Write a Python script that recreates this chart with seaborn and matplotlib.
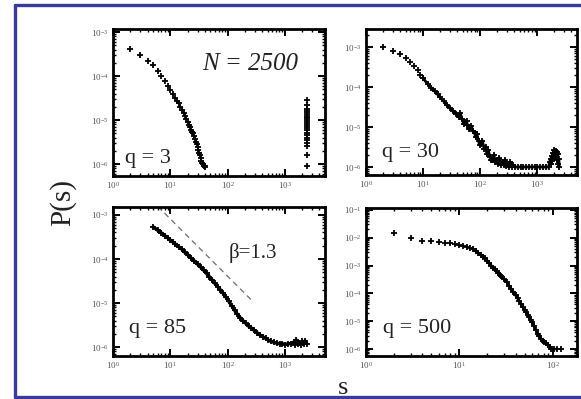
import matplotlib
matplotlib.use("Agg")
import matplotlib.pyplot as plt
from matplotlib.lines import Line2D
from matplotlib.ticker import LogLocator, LogFormatterMathtext, NullFormatter
import numpy as np
import pandas as pd
import seaborn as sns

W, H = 581, 399

# ---------------- cluster-size distributions P(s), N = 2500 ----------------
# q = 3
s_q3 = [2, 3, 4, 5, 6, 7, 8, 9, 10, 11, 12, 13, 14, 15, 16, 17, 18, 19, 20, 21,
        22, 23, 24, 25, 26, 27, 28, 29, 30, 31, 32, 33, 34, 35, 36, 37, 38, 40, 41]
P_q3 = [4.1e-4, 3.0e-4, 2.2e-4, 1.75e-4, 1.3e-4, 9.8e-5, 7.6e-5, 6.0e-5, 4.8e-5,
        3.9e-5, 3.2e-5, 2.7e-5, 2.4e-5, 2.0e-5, 1.7e-5, 1.45e-5, 1.25e-5, 1.05e-5,
        9.0e-6, 7.8e-6, 6.8e-6, 6.0e-6, 5.5e-6, 5.0e-6, 4.3e-6, 3.7e-6, 3.2e-6,
        2.8e-6, 2.4e-6, 2.1e-6, 1.8e-6, 1.6e-6, 1.4e-6, 1.2e-6, 1.05e-6, 1.0e-6,
        9.0e-7, 9.0e-7, 8.5e-7]
# giant clusters of q = 3
s_q3_giant = [2400, 2402, 2398, 2404, 2396, 2401, 2399, 2403, 2397, 2400, 2402,
              2398, 2401, 2399, 2400, 2403, 2397, 2400, 2401, 2399, 2400, 2402]
P_q3_giant = [2.9e-5, 2.2e-5, 1.75e-5, 1.6e-5, 1.45e-5, 1.3e-5, 1.2e-5, 1.1e-5,
              1.0e-5, 9.0e-6, 8.2e-6, 7.4e-6, 6.6e-6, 5.9e-6, 5.2e-6, 4.6e-6,
              4.0e-6, 3.5e-6, 3.0e-6, 2.6e-6, 1.6e-6, 9.0e-7]

# q = 30
s_q30 = [2, 3, 4, 5, 6, 7, 8, 9, 10, 12, 14, 16, 18, 20, 23, 26, 30, 34, 38, 43,
         45, 48, 52, 54, 58, 60, 63, 67, 70, 75, 80, 84, 88, 94, 98, 105, 110, 118,
         125, 132, 140, 148, 155, 165, 175, 185, 195, 207, 215, 232, 240, 260, 270,
         290, 300, 325, 340, 365, 380, 410, 460, 515, 575, 645, 720, 810, 905,
         1010, 1130, 1270, 1420, 1590, 1650, 1720, 1780, 1850, 1900, 1950, 2000,
         2050, 2100, 2150, 2200, 2250, 2300, 2350, 2400, 2450]
P_q30 = [9.8e-4, 8.0e-4, 6.5e-4, 5.4e-4, 4.1e-4, 3.3e-4, 2.6e-4, 2.0e-4, 1.66e-4,
         1.2e-4, 9.5e-5, 7.9e-5, 6.5e-5, 5.5e-5, 4.4e-5, 3.55e-5, 2.95e-5, 2.5e-5,
         2.15e-5, 1.8e-5, 2.2e-5, 1.6e-5, 1.2e-5, 1.35e-5, 1.4e-5, 1.12e-5,
         9.0e-6, 9.3e-6, 1.05e-5, 7.9e-6, 7.0e-6, 5.6e-6, 6.5e-6, 4.5e-6, 3.6e-6,
         3.8e-6, 4.5e-6, 2.8e-6, 3.2e-6, 2.1e-6, 2.6e-6, 1.8e-6, 1.5e-6, 1.5e-6,
         2.0e-6, 1.3e-6, 1.5e-6, 1.2e-6, 1.7e-6, 1.15e-6, 1.3e-6, 1.1e-6, 1.5e-6,
         1.05e-6, 1.2e-6, 1.0e-6, 1.3e-6, 1.0e-6, 1.1e-6, 1.0e-6, 1.0e-6, 1.0e-6,
         1.0e-6, 1.0e-6, 1.0e-6, 1.0e-6, 1.0e-6, 1.0e-6, 1.0e-6, 1.0e-6, 1.0e-6,
         1.0e-6, 1.3e-6, 1.6e-6, 1.2e-6, 1.9e-6, 2.3e-6, 1.6e-6, 2.6e-6, 2.0e-6,
         2.5e-6, 1.8e-6, 2.4e-6, 1.5e-6, 2.1e-6, 1.2e-6, 1.6e-6, 1.0e-6]

# q = 85
s_q85 = [5, 6, 7, 8, 9, 10, 11, 12, 14, 16, 18, 20, 23, 26, 30, 34, 38, 43, 48,
         54, 60, 67, 75, 84, 94, 105, 118, 132, 148, 165, 185, 207, 232, 260, 290,
         325, 365, 410, 460, 515, 575, 645, 720, 810, 905, 1010, 1130, 1270, 1420,
         1500, 1590, 1680, 1780, 1890, 2000, 2120, 2240, 2400]
P_q85 = [5.4e-4, 4.5e-4, 3.9e-4, 3.4e-4, 3.0e-4, 2.7e-4, 2.45e-4, 2.24e-4, 1.9e-4,
         1.66e-4, 1.41e-4, 1.26e-4, 1.05e-4, 9.1e-5, 7.6e-5, 6.5e-5, 5.6e-5, 4.7e-5,
         4.0e-5, 3.3e-5, 2.8e-5, 2.35e-5, 2.0e-5, 1.66e-5, 1.35e-5, 1.1e-5, 8.7e-6,
         6.9e-6, 5.6e-6, 4.7e-6, 4.0e-6, 3.5e-6, 3.0e-6, 2.7e-6, 2.4e-6, 2.14e-6,
         1.9e-6, 1.74e-6, 1.58e-6, 1.45e-6, 1.35e-6, 1.29e-6, 1.23e-6, 1.2e-6,
         1.2e-6, 1.15e-6, 1.2e-6, 1.2e-6, 1.3e-6, 1.15e-6, 1.45e-6, 1.2e-6, 1.25e-6,
         1.15e-6, 1.35e-6, 1.2e-6, 1.4e-6, 1.2e-6]

# q = 500
s_q500 = [2, 3, 4, 5, 6, 7, 8, 9, 10, 11, 12, 13, 14, 15, 16, 17, 18, 19, 20, 21,
          22, 23, 24, 25, 26, 27, 28, 30, 32, 34, 36, 38, 40, 42, 44, 46, 48, 50,
          52, 54, 56, 58, 60, 63, 66, 69, 72, 75, 78, 81, 85, 89, 93, 97, 103, 110,
          124]
P_q500 = [1.45e-2, 9.5e-3, 7.9e-3, 7.4e-3, 7.0e-3, 6.6e-3, 6.3e-3, 5.9e-3, 5.5e-3,
          5.0e-3, 4.6e-3, 4.2e-3, 3.8e-3, 3.3e-3, 2.8e-3, 2.4e-3, 2.1e-3, 1.8e-3,
          1.5e-3, 1.2e-3, 1.0e-3, 8.5e-4, 7.4e-4, 6.3e-4, 5.4e-4, 4.7e-4, 4.1e-4,
          3.2e-4, 2.6e-4, 1.9e-4, 1.45e-4, 1.1e-4, 8.5e-5, 6.6e-5, 5.2e-5, 4.2e-5,
          3.3e-5, 2.6e-5, 2.1e-5, 1.7e-5, 1.4e-5, 1.1e-5, 9.1e-6, 6.8e-6, 4.8e-6,
          3.6e-6, 2.9e-6, 2.3e-6, 2.0e-6, 1.8e-6, 1.6e-6, 1.35e-6, 1.15e-6, 1.0e-6,
          1.0e-6, 1.0e-6, 1.0e-6]

# power-law guide for q = 85
beta = 1.3
guide_amp = 0.0162
guide_s = [6, 285]

panel_labels = ["q = 3", "q = 30", "q = 85", "q = 500"]

# ---------------- styling ----------------
sns.set_style("ticks")
plt.rcParams["font.family"] = ["Liberation Serif", "DejaVu Serif"]
plt.rcParams["mathtext.fontset"] = "stix"

fig = plt.figure(figsize=(W / 100, H / 100), dpi=100)
fig.patch.set_facecolor("white")


def rect(x0, y0, x1, y1):
    return [x0 / W, 1 - y1 / H, (x1 - x0) / W, (y1 - y0) / H]


def fpos(x, y):
    return x / W, 1 - y / H


def style_axes(ax, xlim, ylim):
    ax.set_xscale("log")
    ax.set_yscale("log")
    ax.set_xlim(*xlim)
    ax.set_ylim(*ylim)
    for sp in ax.spines.values():
        sp.set_visible(True)
        sp.set_linewidth(2.0)
        sp.set_color("black")
    ax.xaxis.set_major_locator(LogLocator(base=10, numticks=12))
    ax.yaxis.set_major_locator(LogLocator(base=10, numticks=12))
    ax.xaxis.set_minor_locator(LogLocator(base=10, subs=np.arange(2, 10), numticks=12))
    ax.yaxis.set_minor_locator(LogLocator(base=10, subs=np.arange(2, 10), numticks=12))
    ax.xaxis.set_major_formatter(LogFormatterMathtext())
    ax.yaxis.set_major_formatter(LogFormatterMathtext())
    ax.xaxis.set_minor_formatter(NullFormatter())
    ax.yaxis.set_minor_formatter(NullFormatter())
    ax.tick_params(which="both", direction="in", top=True, right=True,
                   color="black", labelsize=6.5, labelcolor="#555555")
    ax.tick_params(which="major", length=5, width=1.4, pad=3)
    ax.tick_params(which="minor", length=2.5, width=1.0)
    ax.set_xlabel("")
    ax.set_ylabel("")
    ax.set_facecolor("white")


def draw_points(ax, s, p, line=False, lw=2.2):
    df = pd.DataFrame({"s": s, "P": p})
    if line:
        sns.lineplot(data=df, x="s", y="P", ax=ax, color="black", lw=lw,
                     sort=False, estimator=None)
    sns.scatterplot(data=df, x="s", y="P", ax=ax, marker="+", s=16,
                    color="black", edgecolor="black", linewidth=1.3, zorder=3)


# top-left: q = 3
ax1 = fig.add_axes(rect(113, 29, 325, 176))
draw_points(ax1, s_q3, P_q3)
draw_points(ax1, s_q3_giant, P_q3_giant)
style_axes(ax1, (1, 5000), (10 ** -6.27, 10 ** -2.93))

# top-right: q = 30
ax2 = fig.add_axes(rect(366, 29, 577, 175))
draw_points(ax2, s_q30[:9], P_q30[:9])
draw_points(ax2, s_q30[8:], P_q30[8:], line=True, lw=2.0)
style_axes(ax2, (1, 5000), (10 ** -6.2, 10 ** -2.55))

# bottom-left: q = 85
ax3 = fig.add_axes(rect(113, 207, 325, 356))
draw_points(ax3, s_q85, P_q85, line=True, lw=2.4)
guide_df = pd.DataFrame({"s": guide_s,
                         "P": [guide_amp * v ** (-beta) for v in guide_s]})
sns.lineplot(data=guide_df, x="s", y="P", ax=ax3, color="#777777", lw=1.0,
             dashes=False, linestyle=(0, (4, 3)))
style_axes(ax3, (1, 5000), (10 ** -6.2, 10 ** -2.82))

# bottom-right: q = 500
ax4 = fig.add_axes(rect(366, 208, 577, 356))
draw_points(ax4, s_q500[:14], P_q500[:14])
draw_points(ax4, s_q500[13:-1], P_q500[13:-1], line=True, lw=1.8)
draw_points(ax4, s_q500[-1:], P_q500[-1:])
style_axes(ax4, (1, 10 ** 2.26), (10 ** -6.25, 10 ** -0.93))

# panel annotations
txt_kw = dict(fontsize=16, color="#222222", ha="left", va="baseline")
fig.text(*fpos(125, 163), panel_labels[0], **txt_kw)
fig.text(*fpos(382, 157), panel_labels[1], **txt_kw)
fig.text(*fpos(129, 333), panel_labels[2], **txt_kw)
fig.text(*fpos(383, 333), panel_labels[3], **txt_kw)
fig.text(*fpos(202, 70), "N = 2500", fontsize=18, style="italic",
         color="#222222", ha="left", va="baseline")
fig.text(*fpos(229, 258), f"\u03b2={beta}", fontsize=15, color="#222222",
         ha="left", va="baseline")

# shared axis labels
fig.text(*fpos(63, 203), "P(s)", fontsize=21, rotation=90, color="#222222",
         ha="center", va="center")
fig.text(*fpos(343, 394), "s", fontsize=19, color="#222222",
         ha="center", va="baseline")

# frame
frame_col = "#3a3a9c"
fig.add_artist(Line2D([15 / W, 15 / W], [1 - 5 / H, 1 - 397 / H],
                      transform=fig.transFigure, color=frame_col, lw=2.4))
fig.add_artist(Line2D([15 / W, 1.0], [1 - 5 / H, 1 - 5 / H],
                      transform=fig.transFigure, color=frame_col, lw=2.4))
fig.add_artist(Line2D([15 / W, 1.0], [1 - 397 / H, 1 - 397 / H],
                      transform=fig.transFigure, color=frame_col, lw=2.4))

fig.savefig("out.png", dpi=100, facecolor="white")
